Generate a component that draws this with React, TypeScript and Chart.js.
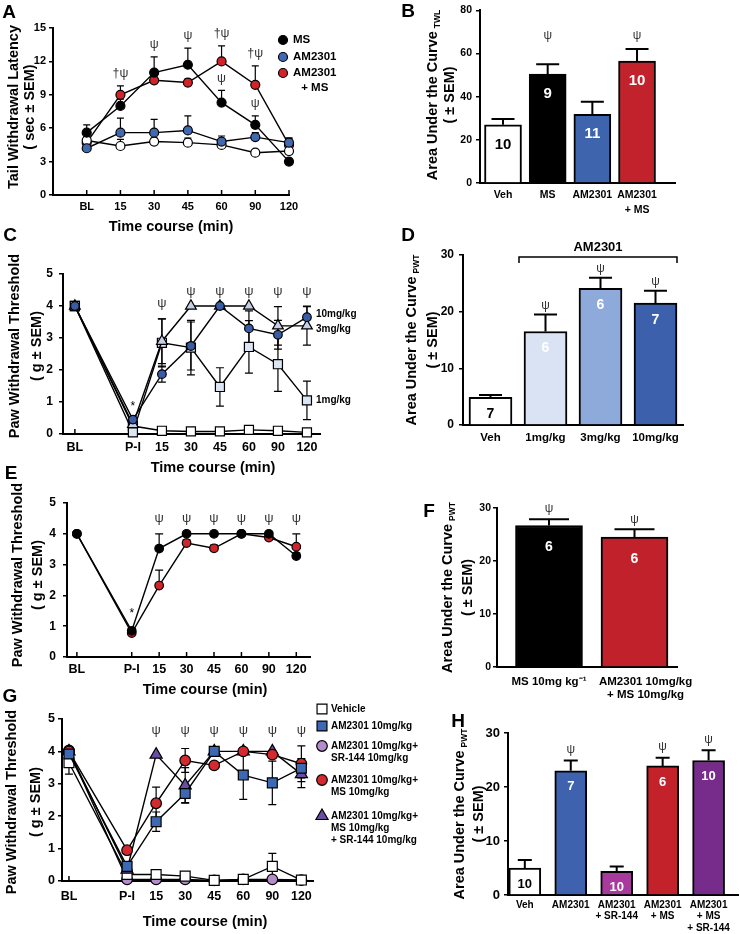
import React, { useEffect, useRef } from 'react';
import { Chart, registerables } from 'chart.js';

Chart.register(...registerables);

const FONT = '"Liberation Sans", Arial, Helvetica, sans-serif';
Chart.defaults.font.family = FONT;

// ================= DATA =================
// Panel A - tail withdrawal latency (sec)
const aTimes = ['BL', '15', '30', '45', '60', '90', '120'];
const aVehicle = [4.9, 4.4, 4.8, 4.7, 4.5, 3.8, 3.95];
const aVehicleErr = [0.3, 0.6, 0.3, 0.4, 0.4, 0.2, 0.3];
const aMS = [5.6, 8.0, 11.0, 11.7, 8.3, 6.3, 3.0];
const aMSErr = [0.7, 0.6, 1.4, 1.5, 1.1, 0.8, 0.2];
const aAM = [4.2, 5.6, 5.6, 5.8, 4.8, 5.2, 4.7];
const aAMErr = [0.3, 1.3, 1.2, 1.3, 0.5, 0.4, 0.4];
const aAMMS = [4.7, 9.0, 10.3, 10.1, 12.0, 9.9, 4.5];
const aAMMSErr = [0.5, 0.8, 0.4, 0.3, 1.4, 1.7, 0.6];
const aMarkAt = [1, 2, 3, 4, 4, 5, 5];
const aMarkText = ['†ψ', 'ψ', 'ψ', '†ψ', 'ψ', '†ψ', 'ψ'];
const aMarkOver = ['AM2301\n+ MS', 'MS', 'MS', 'AM2301\n+ MS', 'MS', 'AM2301\n+ MS', 'MS'];

// Panel B - AUC TWL
const bGroups = ['Veh', 'MS', 'AM2301', 'AM2301\n+ MS'];
const bAUC = [27, 50.5, 31.8, 56.5];
const bSEM = [2.7, 4.5, 5.8, 5.6];
const bN = [10, 9, 11, 10];
const bSig = ['', 'ψ', '', 'ψ'];

// Time labels for paw withdrawal panels
const pwTimes = ['BL', 'P-I', '15', '30', '45', '60', '90', '120'];

// Panel C - AM2301 doses (g)
const cVehicle = [4.0, 0.25, 0.1, 0.08, 0.08, 0.13, 0.1, 0.05];
const cVehicleErr = [0, 0.03, 0.03, 0.03, 0.03, 0.03, 0.03, 0.03];
const c1mg = [4.0, 0.05, 2.85, 2.7, 1.47, 2.72, 2.18, 1.05];
const c1mgErr = [0, 0.05, 0.75, 0.85, 0.6, 0.82, 0.85, 0.6];
const c3mg = [4.0, 0.3, 2.9, 4.0, 4.0, 4.0, 3.38, 3.38];
const c3mgErr = [0, 0.05, 0.7, 0, 0, 0, 0.6, 0.6];
const c10mg = [4.0, 0.45, 1.87, 2.75, 4.0, 3.3, 3.1, 3.65];
const c10mgErr = [0, 0.05, 0.25, 0.75, 0, 0.55, 0.45, 0.35];

// Panel D - AUC PWT doses
const dGroups = ['Veh', '1mg/kg', '3mg/kg', '10mg/kg'];
const dAUC = [4.9, 16.5, 24.1, 21.5];
const dSEM = [0.4, 3.0, 1.9, 2.2];
const dN = [7, 6, 6, 7];
const dSig = ['', 'ψ', 'ψ', 'ψ'];

// Panel E
const eMS = [4.0, 0.85, 3.52, 4.0, 4.0, 4.0, 4.0, 3.28];
const eMSErr = [0, 0.05, 0.48, 0, 0, 0, 0, 0.1];
const eAMMS = [4.0, 0.78, 2.32, 3.7, 3.53, 4.0, 3.88, 3.58];
const eAMMSErr = [0, 0.05, 0.5, 0.1, 0.1, 0, 0.1, 0.42];

// Panel F
const fGroups = ['MS 10mg kg⁻¹', 'AM2301 10mg/kg\n+ MS 10mg/kg'];
const fAUC = [26.7, 24.5];
const fSEM = [1.2, 1.5];
const fN = [6, 6];
const fSig = ['ψ', 'ψ'];

// Panel G
const gVehicle = [3.65, 0.2, 0.2, 0.15, 0.02, 0.05, 0.45, 0.03];
const gVehicleErr = [0.35, 0.05, 0.05, 0.05, 0.02, 0.03, 0.4, 0.02];
const gAM = [3.92, 0.45, 1.83, 2.7, 4.0, 3.27, 3.03, 3.48];
const gAMErr = [0.1, 0.1, 0.3, 0.28, 0, 0.75, 0.67, 0.3];
const gAMSR = [4.03, 0.05, 0.05, 0.05, 0.02, 0.05, 0.05, 0.03];
const gAMSRErr = [0.05, 0.02, 0.02, 0.02, 0.02, 0.02, 0.02, 0.02];
const gAMMS = [4.0, 0.95, 2.4, 3.72, 3.57, 4.0, 3.9, 3.62];
const gAMMSErr = [0.05, 0.05, 0.5, 0.37, 0.05, 0.05, 0.1, 0.55];
const gAMMSSR = [4.0, 0.35, 3.9, 2.95, 4.0, 4.0, 4.0, 3.3];
const gAMMSSRErr = [0, 0.05, 0, 0.55, 0, 0, 0, 0.42];

// Panel H
const hGroups = ['Veh', 'AM2301', 'AM2301\n+ SR-144', 'AM2301\n+ MS', 'AM2301\n+ MS\n+ SR-144'];
const hAUC = [5.0, 23.0, 4.4, 23.9, 24.9];
const hSEM = [1.5, 1.9, 0.9, 1.5, 1.9];
const hN = [10, 7, 10, 6, 10];
const hSig = ['', 'ψ', '', 'ψ', 'ψ'];

// ================= HELPERS =================
const fnt = (size: number, bold = true) => `${bold ? 'bold ' : ''}${size}px ${FONT}`;

function text(ctx: any, s: string, x: number, y: number, size: number, o: any = {}) {
  ctx.save();
  ctx.font = fnt(size, o.bold !== false);
  ctx.fillStyle = o.color || '#000';
  ctx.textAlign = o.align || 'center';
  ctx.textBaseline = 'middle';
  if (o.rot) {
    ctx.translate(x, y);
    ctx.rotate(-Math.PI / 2);
    ctx.fillText(s, 0, 0);
  } else ctx.fillText(s, x, y);
  ctx.restore();
}

function marker(ctx: any, style: string, x: number, y: number, r: number, fill: string) {
  ctx.save();
  ctx.beginPath();
  if (style === 'circle') ctx.arc(x, y, r, 0, Math.PI * 2);
  else if (style === 'rect') {
    const h = r * Math.SQRT1_2;
    ctx.rect(x - h, y - h, 2 * h, 2 * h);
  } else {
    let a = 0;
    ctx.moveTo(x + Math.sin(a) * r, y - Math.cos(a) * r);
    a += (2 * Math.PI) / 3;
    ctx.lineTo(x + Math.sin(a) * r, y - Math.cos(a) * r);
    a += (2 * Math.PI) / 3;
    ctx.lineTo(x + Math.sin(a) * r, y - Math.cos(a) * r);
    ctx.closePath();
  }
  ctx.fillStyle = fill;
  ctx.fill();
  ctx.lineWidth = 1.2;
  ctx.strokeStyle = '#000';
  ctx.stroke();
  ctx.restore();
}

function titleWithSub(ctx: any, main: string, sub: string, x: number, yc: number, size: number, subSize: number) {
  ctx.save();
  ctx.font = fnt(size);
  const wm = ctx.measureText(main).width;
  ctx.font = fnt(subSize);
  const ws = ctx.measureText(sub).width;
  const gap = 3;
  const total = wm + gap + ws;
  ctx.translate(x, yc);
  ctx.rotate(-Math.PI / 2);
  ctx.fillStyle = '#000';
  ctx.textBaseline = 'middle';
  ctx.textAlign = 'left';
  ctx.font = fnt(size);
  ctx.fillText(main, -total / 2, 0);
  ctx.font = fnt(subSize);
  ctx.fillText(sub, -total / 2 + wm + gap, size * 0.32);
  ctx.restore();
}

const piX = (i: number) => (i === 0 ? 0 : i + 1);

// ================= LINE PANEL =================
function makeLine(canvas: HTMLCanvasElement, s: any) {
  const [cx, cy, cw, ch] = s.rect;
  const [L, T, R, B] = s.area;
  const lab = (v: number) => {
    const i = s.xVals.indexOf(v);
    return i < 0 ? '' : s.xLabels[i];
  };
  const datasets = s.series.map((se: any) => ({
    label: se.name,
    data: se.data.map((y: number, i: number) => ({ x: s.xVals[i], y })),
    borderColor: '#000',
    borderWidth: 1.4,
    pointStyle: se.marker,
    pointRadius: se.r,
    pointBackgroundColor: se.fill,
    pointBorderColor: '#000',
    pointBorderWidth: 1.2,
    tension: 0,
    fill: false,
    clip: false,
    order: se.order,
  }));
  const plugin = {
    id: 'lineExtras',
    beforeDatasetsDraw(chart: any) {
      const ctx = chart.ctx;
      const px = (v: number) => chart.scales.x.getPixelForValue(v) + cx;
      const py = (v: number) => chart.scales.y.getPixelForValue(v) + cy;
      ctx.save();
      ctx.translate(-cx, -cy);
      ctx.strokeStyle = '#000';
      ctx.lineWidth = 1.5;
      const base = py(0);
      s.xVals.forEach((v: number) => {
        const x = px(v);
        ctx.beginPath();
        ctx.moveTo(x, base);
        ctx.lineTo(x, base - 5);
        ctx.stroke();
      });
      ctx.lineWidth = 1.2;
      s.series.forEach((se: any) =>
        se.data.forEach((d: number, i: number) => {
          const e = se.err[i];
          if (!e) return;
          const x = px(s.xVals[i]);
          const top = py(d + e);
          const bot = s.errBoth ? py(Math.max(d - e, 0)) : py(d);
          const hw = s.capW / 2;
          ctx.beginPath();
          ctx.moveTo(x, top);
          ctx.lineTo(x, bot);
          ctx.moveTo(x - hw, top);
          ctx.lineTo(x + hw, top);
          if (s.errBoth) {
            ctx.moveTo(x - hw, bot);
            ctx.lineTo(x + hw, bot);
          }
          ctx.stroke();
        })
      );
      ctx.restore();
    },
    afterDraw(chart: any) {
      const ctx = chart.ctx;
      const px = (v: number) => chart.scales.x.getPixelForValue(v) + cx;
      const py = (v: number) => chart.scales.y.getPixelForValue(v) + cy;
      ctx.save();
      ctx.translate(-cx, -cy);
      s.yTitle.forEach((t: string, k: number) => text(ctx, t, s.yTitleX[k], s.yTitleY, 14.5, { rot: true }));
      text(ctx, s.xTitle, s.xTitleX, s.xTitleY, 14.5);
      text(ctx, s.letter[0], s.letter[1], s.letter[2], 19);
      if (s.sig) {
        s.sig.idx.forEach((i: number) => {
          let y;
          if (s.sig.at != null) y = py(s.sig.at);
          else {
            const tops = s.series.map((se: any) => py(se.data[i] + se.err[i]));
            y = Math.min(...tops) - s.sig.gap;
          }
          text(ctx, 'ψ', px(s.xVals[i]), y, 13, { bold: false, color: '#333' });
        });
      }
      if (s.draw) s.draw(ctx, px, py);
      ctx.restore();
    },
  };
  return new Chart(canvas, {
    type: 'line',
    data: { datasets },
    options: {
      responsive: false,
      animation: false,
      events: [],
      layout: { padding: { left: 0, top: T - cy, right: cx + cw - R, bottom: 0 } },
      plugins: { legend: { display: false }, tooltip: { enabled: false } },
      scales: {
        x: {
          type: 'linear',
          min: s.xMin,
          max: s.xMax,
          afterBuildTicks: (sc: any) => {
            sc.ticks = s.xVals.map((v: number) => ({ value: v }));
          },
          afterFit: (sc: any) => {
            sc.height = cy + ch - B;
          },
          grid: { display: false, drawTicks: false },
          border: { display: true, color: '#000', width: 2 },
          ticks: {
            autoSkip: false,
            maxRotation: 0,
            minRotation: 0,
            color: '#000',
            font: { family: FONT, size: s.xTickFont, weight: 'bold', lineHeight: 1.2 },
            padding: s.xTickY - B - 0.6 * s.xTickFont,
            callback: (v: any) => lab(v),
          },
        },
        y: {
          type: 'linear',
          min: 0,
          max: s.yMax,
          afterFit: (sc: any) => {
            sc.width = L - cx;
          },
          grid: { display: true, drawOnChartArea: false, drawTicks: true, tickLength: 4, color: '#000', lineWidth: 1.5 },
          border: { display: true, color: '#000', width: 2 },
          ticks: {
            stepSize: s.yStep,
            color: '#000',
            font: { family: FONT, size: s.yTickFont, weight: 'bold' },
            padding: s.yTickPad,
          },
        },
      },
    } as any,
    plugins: [plugin],
  } as any);
}

// ================= BAR PANEL =================
function makeBar(canvas: HTMLCanvasElement, s: any) {
  const [cx, cy, cw, ch] = s.rect;
  const [L, T, R, B] = s.area;
  const idx = s.vals.map((_: number, i: number) => i);
  const shift = s.labelShift || idx.map(() => 0);
  const tickPos = idx.map((i: number) => i + shift[i]);
  const plugin = {
    id: 'barExtras',
    afterDatasetsDraw(chart: any) {
      const ctx = chart.ctx;
      const meta = chart.getDatasetMeta(0);
      const py = (v: number) => chart.scales.y.getPixelForValue(v) + cy;
      ctx.save();
      ctx.translate(-cx, -cy);
      const tops = s.vals.map((v: number, i: number) => py(v + s.err[i]));
      const sigTops = tops.filter((_: number, i: number) => s.sig[i]);
      const alignY = Math.min(...sigTops) - s.sigGap;
      meta.data.forEach((el: any, i: number) => {
        const x = el.x + cx;
        const y = el.y + cy;
        const et = tops[i];
        ctx.strokeStyle = '#000';
        ctx.lineWidth = 2;
        ctx.beginPath();
        ctx.moveTo(x, y);
        ctx.lineTo(x, et);
        ctx.moveTo(x - s.capW / 2, et);
        ctx.lineTo(x + s.capW / 2, et);
        ctx.stroke();
        text(ctx, String(s.n[i]), x, y + s.nOffset, s.nFont, { color: s.nColors[i] });
        if (s.sig[i]) text(ctx, s.sig[i], x, s.sigAlign ? alignY : et - s.sigGap, 12, { bold: false, color: '#333' });
      });
      if (s.draw) s.draw(ctx, meta, cx, cy);
      ctx.restore();
    },
    afterDraw(chart: any) {
      const ctx = chart.ctx;
      ctx.save();
      ctx.translate(-cx, -cy);
      const yc = (T + B) / 2;
      titleWithSub(ctx, s.yTitle, s.ySub, s.yTitleX[0], yc, 14.5, 8.5);
      text(ctx, s.yTitle2, s.yTitleX[1], yc, 14.5, { rot: true });
      text(ctx, s.letter[0], s.letter[1], s.letter[2], 19);
      ctx.restore();
    },
  };
  return new Chart(canvas, {
    type: 'bar',
    data: {
      datasets: [
        {
          data: s.vals.map((v: number, i: number) => ({ x: i, y: v })),
          backgroundColor: s.colors,
          borderColor: '#000',
          borderWidth: 2,
          barThickness: s.barW,
        },
      ],
    },
    options: {
      responsive: false,
      animation: false,
      events: [],
      layout: { padding: { left: 0, top: T - cy, right: cx + cw - R, bottom: 0 } },
      plugins: { legend: { display: false }, tooltip: { enabled: false } },
      scales: {
        x: {
          type: 'linear',
          offset: false,
          min: s.xMin,
          max: s.xMax,
          afterBuildTicks: (sc: any) => {
            sc.ticks = tickPos.map((v: number) => ({ value: v }));
          },
          afterFit: (sc: any) => {
            sc.height = cy + ch - B;
          },
          grid: { display: false, drawTicks: false, offset: false },
          border: { display: true, color: '#000', width: 2 },
          ticks: {
            autoSkip: false,
            maxRotation: 0,
            minRotation: 0,
            color: '#000',
            font: { family: FONT, size: s.xTickFont, weight: 'bold', lineHeight: s.xTickLH },
            padding: s.xTickY - B - (s.xTickFont * s.xTickLH) / 2,
            callback: (v: any) => {
              const k = tickPos.findIndex((p: number) => Math.abs(p - v) < 1e-6);
              const c = k < 0 ? null : s.cats[k];
              return c ? c.split('\n') : '';
            },
          },
        },
        y: {
          type: 'linear',
          min: 0,
          max: s.yMax,
          afterFit: (sc: any) => {
            sc.width = L - cx;
          },
          grid: { display: true, drawOnChartArea: false, drawTicks: true, tickLength: 4, color: '#000', lineWidth: 1.5 },
          border: { display: true, color: '#000', width: 2 },
          ticks: {
            stepSize: s.yStep,
            color: '#000',
            font: { family: FONT, size: s.yTickFont, weight: 'bold' },
            padding: s.yTickPad,
          },
        },
      },
    } as any,
    plugins: [plugin],
  } as any);
}

// ================= PANEL SPECS =================
const aSeries = [
  { name: 'AM2301\n+ MS', data: aAMMS, err: aAMMSErr, marker: 'circle', r: 4.5, fill: '#d2232a', order: 4 },
  { name: 'Vehicle', data: aVehicle, err: aVehicleErr, marker: 'circle', r: 4.5, fill: '#ffffff', order: 3 },
  { name: 'AM2301', data: aAM, err: aAMErr, marker: 'circle', r: 4.5, fill: '#4169b1', order: 2 },
  { name: 'MS', data: aMS, err: aMSErr, marker: 'circle', r: 4.5, fill: '#000000', order: 1 },
];

const specA = {
  rect: [0, 0, 400, 240],
  area: [53, 28, 289, 195],
  xLabels: aTimes,
  xVals: aTimes.map((_, i) => i + 1),
  xMin: 0,
  xMax: 7,
  yMax: 15,
  yStep: 3,
  series: aSeries,
  errBoth: false,
  capW: 7,
  yTickFont: 11,
  yTickPad: 3,
  xTickFont: 11,
  xTickY: 207,
  yTitle: ['Tail Withdrawal Latency', '( sec ± SEM)'],
  yTitleX: [14, 30],
  yTitleY: 107,
  xTitle: 'Time course (min)',
  xTitleX: 171,
  xTitleY: 227,
  letter: ['A', 9, 13],
  draw: (ctx: any, px: any, py: any) => {
    const leg = ['MS', 'AM2301', 'AM2301\n+ MS'];
    const legY = [40, 57, 73];
    leg.forEach((name, k) => {
      const se = aSeries.find((q) => q.name === name)!;
      marker(ctx, 'circle', 283, legY[k], 4.5, se.fill);
      const lines = name.split('\n');
      ctx.font = fnt(11.5);
      const w = ctx.measureText(lines[0]).width;
      lines.forEach((ln, j) => text(ctx, ln, 293 + w / 2, legY[k] + j * 15, 11.5));
    });
    aMarkAt.forEach((i, k) => {
      const se = aSeries.find((q) => q.name === aMarkOver[k])!;
      const y = py(se.data[i] + se.err[i]) - 12;
      text(ctx, aMarkText[k], px(i + 1), y, 12.5, { bold: false, color: '#333' });
    });
  },
};

const specB = {
  rect: [400, 0, 340, 225],
  area: [480, 7, 675, 183],
  cats: bGroups,
  vals: bAUC,
  err: bSEM,
  n: bN,
  sig: bSig,
  colors: ['#ffffff', '#000000', '#3f64ae', '#c1222b'],
  nColors: ['#000', '#fff', '#fff', '#fff'],
  xMin: -0.515,
  xMax: 3.85,
  yMax: 80,
  yStep: 20,
  barW: 37,
  capW: 23,
  yTickFont: 10.5,
  yTickPad: 4,
  xTickFont: 10.5,
  xTickLH: 1.4,
  xTickY: 195,
  yTitle: 'Area Under the Curve',
  ySub: 'TWL',
  yTitle2: '( ± SEM)',
  yTitleX: [433, 450],
  nFont: 15,
  nOffset: 20,
  sigAlign: true,
  sigGap: 13,
  letter: ['B', 408, 12],
};

const cSeries = [
  { name: 'Vehicle', data: cVehicle, err: cVehicleErr, marker: 'rect', r: 6.4, fill: '#ffffff', order: 4 },
  { name: '1mg/kg', data: c1mg, err: c1mgErr, marker: 'rect', r: 6.4, fill: '#dce5f4', order: 3 },
  { name: '3mg/kg', data: c3mg, err: c3mgErr, marker: 'triangle', r: 6.2, fill: '#c5d0e6', order: 2 },
  { name: '10mg/kg', data: c10mg, err: c10mgErr, marker: 'circle', r: 4.3, fill: '#3a5ba5', order: 1 },
];

const specC = {
  rect: [0, 225, 400, 250],
  area: [63, 274, 320, 434],
  xLabels: pwTimes,
  xVals: pwTimes.map((_, i) => piX(i)),
  xMin: -0.41,
  xMax: 8.45,
  yMax: 5,
  yStep: 1,
  series: cSeries,
  errBoth: true,
  capW: 8,
  yTickFont: 12,
  yTickPad: 6,
  xTickFont: 12.5,
  xTickY: 448,
  yTitle: ['Paw Withdrawal Threshold', '( g ± SEM)'],
  yTitleX: [15, 37],
  yTitleY: 346,
  xTitle: 'Time course (min)',
  xTitleX: 213,
  xTitleY: 468,
  letter: ['C', 10, 236],
  sig: { idx: [2, 3, 4, 5, 6, 7], gap: 15 },
  draw: (ctx: any, px: any, py: any) => {
    text(ctx, '*', px(2), py(0.95) + 3, 12, { bold: false });
    const last = pwTimes.length - 1;
    const nudge: any = { '10mg/kg': -3, '3mg/kg': 3, '1mg/kg': 0 };
    ['10mg/kg', '3mg/kg', '1mg/kg'].forEach((name) => {
      const se = cSeries.find((q) => q.name === name)!;
      text(ctx, name, px(piX(last)) + 9, py(se.data[last]) + nudge[name], 10, { align: 'left' });
    });
  },
};

const specD = {
  rect: [400, 225, 340, 230],
  area: [463, 255, 683, 425],
  cats: dGroups,
  vals: dAUC,
  err: dSEM,
  n: dN,
  sig: dSig,
  colors: ['#ffffff', '#dae3f3', '#8eaadb', '#3d60ac'],
  nColors: ['#000', '#fff', '#fff', '#fff'],
  xMin: -0.5,
  xMax: 3.5,
  yMax: 30,
  yStep: 10,
  barW: 43,
  capW: 23,
  yTickFont: 12,
  yTickPad: 5,
  xTickFont: 11.5,
  xTickLH: 1.2,
  xTickY: 438,
  yTitle: 'Area Under the Curve',
  ySub: 'PWT',
  yTitle2: '( ± SEM)',
  yTitleX: [412, 433],
  nFont: 14,
  nOffset: 17,
  sigAlign: false,
  sigGap: 9,
  letter: ['D', 408, 236],
  draw: (ctx: any, meta: any, cx: number, cy: number) => {
    const b1 = meta.data[1];
    const b3 = meta.data[3];
    const x1 = b1.x + cx - 43 / 2 - 5;
    const x2 = b3.x + cx + 43 / 2;
    const y = 257;
    ctx.strokeStyle = '#000';
    ctx.lineWidth = 1.5;
    ctx.beginPath();
    ctx.moveTo(x1, y + 6);
    ctx.lineTo(x1, y);
    ctx.lineTo(x2, y);
    ctx.lineTo(x2, y + 6);
    ctx.stroke();
    text(ctx, 'AM2301', (x1 + x2) / 2, 247, 13);
  },
};

const specE = {
  rect: [0, 465, 400, 235],
  area: [67, 503, 310, 657],
  xLabels: pwTimes,
  xVals: pwTimes.map((_, i) => piX(i)),
  xMin: -0.36,
  xMax: 8.5,
  yMax: 5,
  yStep: 1,
  series: [
    { name: 'AM2301 + MS', data: eAMMS, err: eAMMSErr, marker: 'circle', r: 4.3, fill: '#d0232a', order: 2 },
    { name: 'MS', data: eMS, err: eMSErr, marker: 'circle', r: 4.3, fill: '#000000', order: 1 },
  ],
  errBoth: false,
  capW: 8,
  yTickFont: 12,
  yTickPad: 7,
  xTickFont: 12.5,
  xTickY: 670,
  yTitle: ['Paw Withdrawal Threshold', '( g ± SEM)'],
  yTitleX: [18, 38],
  yTitleY: 575,
  xTitle: 'Time course (min)',
  xTitleX: 205,
  xTitleY: 690,
  letter: ['E', 11, 474],
  sig: { idx: [2, 3, 4, 5, 6, 7], gap: 15 },
  draw: (ctx: any, px: any, py: any) => {
    text(ctx, '*', px(2), py(1.5) + 3, 12, { bold: false });
  },
};

const specF = {
  rect: [400, 455, 340, 250],
  area: [497, 508, 677, 667],
  cats: fGroups,
  vals: fAUC,
  err: fSEM,
  n: fN,
  sig: fSig,
  colors: ['#000000', '#c1212b'],
  nColors: ['#fff', '#fff'],
  labelShift: [0, 0.13],
  xMin: -0.608,
  xMax: 1.497,
  yMax: 30,
  yStep: 10,
  barW: 67,
  capW: 40,
  yTickFont: 10.5,
  yTickPad: 2,
  xTickFont: 11.5,
  xTickLH: 1.13,
  xTickY: 682,
  yTitle: 'Area Under the Curve',
  ySub: 'PWT',
  yTitle2: '( ± SEM)',
  yTitleX: [448, 468],
  nFont: 14,
  nOffset: 22,
  sigAlign: false,
  sigGap: 10,
  letter: ['F', 429, 512],
};

const gSeries = [
  { name: 'AM2301 10mg/kg+\nSR-144 10mg/kg', data: gAMSR, err: gAMSRErr, marker: 'circle', r: 5.3, fill: '#b48bcb', order: 5 },
  { name: 'Vehicle', data: gVehicle, err: gVehicleErr, marker: 'rect', r: 7, fill: '#ffffff', order: 4 },
  { name: 'AM2301 10mg/kg+\nMS 10mg/kg\n+ SR-144 10mg/kg', data: gAMMSSR, err: gAMMSSRErr, marker: 'triangle', r: 7, fill: '#6a4ea3', order: 3 },
  { name: 'AM2301 10mg/kg+\nMS 10mg/kg', data: gAMMS, err: gAMMSErr, marker: 'circle', r: 5.3, fill: '#d42a2f', order: 2 },
  { name: 'AM2301 10mg/kg', data: gAM, err: gAMErr, marker: 'rect', r: 7, fill: '#3d68b4', order: 1 },
];
const gLegendOrder = ['Vehicle', 'AM2301 10mg/kg', 'AM2301 10mg/kg+\nSR-144 10mg/kg', 'AM2301 10mg/kg+\nMS 10mg/kg', 'AM2301 10mg/kg+\nMS 10mg/kg\n+ SR-144 10mg/kg'];

const specG = {
  rect: [0, 685, 440, 249],
  area: [62, 719, 313, 881],
  xLabels: pwTimes,
  xVals: pwTimes.map((_, i) => piX(i)),
  xMin: -0.24,
  xMax: 8.4,
  yMax: 5,
  yStep: 1,
  series: gSeries,
  errBoth: true,
  capW: 8,
  yTickFont: 12.5,
  yTickPad: 3,
  xTickFont: 12.5,
  xTickY: 897,
  yTitle: ['Paw Withdrawal Threshold', '( g ± SEM)'],
  yTitleX: [12, 36],
  yTitleY: 802,
  xTitle: 'Time course (min)',
  xTitleX: 205,
  xTitleY: 922,
  letter: ['G', 10, 697],
  sig: { idx: [2, 3, 4, 5, 6, 7], at: 4.66 },
  draw: (ctx: any) => {
    const rowY = [709, 726, 746, 780, 816];
    gLegendOrder.forEach((name, k) => {
      const se = gSeries.find((q) => q.name === name)!;
      marker(ctx, se.marker, 322, rowY[k], se.marker === 'circle' ? 5.3 : 7, se.fill);
      name.split('\n').forEach((ln, j) => text(ctx, ln, 331, rowY[k] + j * 12, 10, { align: 'left' }));
    });
  },
};

const specH = {
  rect: [400, 700, 340, 234],
  area: [508, 733, 738, 895],
  cats: hGroups,
  vals: hAUC,
  err: hSEM,
  n: hN,
  sig: hSig,
  colors: ['#ffffff', '#3e62ad', '#a83a9d', '#c3222b', '#772c8b'],
  nColors: ['#000', '#fff', '#fff', '#fff', '#fff'],
  xMin: -0.366,
  xMax: 4.64,
  yMax: 30,
  yStep: 10,
  barW: 32,
  capW: 14,
  yTickFont: 13,
  yTickPad: 4,
  xTickFont: 10,
  xTickLH: 1.15,
  xTickY: 905,
  yTitle: 'Area Under the Curve',
  ySub: 'PWT',
  yTitle2: '( ± SEM)',
  yTitleX: [460, 479],
  nFont: 13,
  nOffset: 16,
  sigAlign: false,
  sigGap: 11,
  letter: ['H', 458, 722],
};

const panels: any[] = [
  { spec: specA, kind: 'line' },
  { spec: specB, kind: 'bar' },
  { spec: specC, kind: 'line' },
  { spec: specD, kind: 'bar' },
  { spec: specE, kind: 'line' },
  { spec: specF, kind: 'bar' },
  { spec: specG, kind: 'line' },
  { spec: specH, kind: 'bar' },
];

function PanelCanvas({ spec, kind }: any) {
  const ref = useRef<HTMLCanvasElement>(null);
  useEffect(() => {
    const chart = kind === 'line' ? makeLine(ref.current!, spec) : makeBar(ref.current!, spec);
    return () => chart.destroy();
  }, []);
  const [x, y, w, h] = spec.rect;
  return (
    <canvas
      ref={ref}
      width={w}
      height={h}
      style={{ position: 'absolute', left: x, top: y, width: w, height: h }}
    />
  );
}

export default function App() {
  return (
    <div style={{ position: 'absolute', left: 0, top: 0, width: 740, height: 934, background: '#fff', overflow: 'hidden' }}>
      {panels.map((p, i) => (
        <PanelCanvas key={i} spec={p.spec} kind={p.kind} />
      ))}
    </div>
  );
}
